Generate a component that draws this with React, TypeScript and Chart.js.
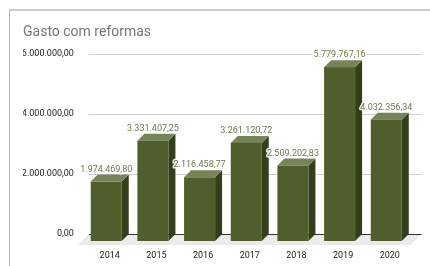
import React, { useEffect, useRef } from "react";
import { Chart, registerables } from "chart.js";

Chart.register(...registerables);

const TITLE = "Gasto com reformas";
const CATEGORIES = ["2014", "2015", "2016", "2017", "2018", "2019", "2020"];
const VALUES = [1974469.8, 3331407.25, 2116458.77, 3261120.72, 2509202.83, 5779767.16, 4032356.34];
const Y_MAX = 6000000;
const Y_STEP = 2000000;

const FONT = "Roboto, 'Liberation Sans', Arial, sans-serif";
const FRONT = "#4f5e2a";
const TOP = "#76845a";
const SIDE = "#333f1b";
const LABEL = "#6b7a4b";
const DX = 7;
const DY = 7;

function fmt(v: number): string {
  const neg = v < 0;
  const fixed = Math.abs(v).toFixed(2);
  const [int, dec] = fixed.split(".");
  const withDots = int.replace(/\B(?=(\d{3})+(?!\d))/g, ".");
  return (neg ? "-" : "") + withDots + "," + dec;
}

const bar3d = {
  id: "bar3d",
  beforeDatasetsDraw(chart: any) {
    const { ctx, chartArea } = chart;
    const y = chart.scales.y;
    const x0 = chartArea.left - 1;
    const x1 = chartArea.right + 5;
    const base = y.getPixelForValue(0);
    ctx.save();
    // floor
    ctx.fillStyle = "#ebebeb";
    ctx.beginPath();
    ctx.moveTo(x0, base);
    ctx.lineTo(x1, base);
    ctx.lineTo(x1 - 11, base + 11);
    ctx.lineTo(x0 - 11, base + 11);
    ctx.closePath();
    ctx.fill();
    // gridlines
    ctx.lineWidth = 1;
    y.ticks.forEach((t: any) => {
      if (t.value === 0) return;
      const py = Math.round(y.getPixelForValue(t.value)) + 0.5;
      ctx.strokeStyle = "#d0d0d0";
      ctx.beginPath();
      ctx.moveTo(x0, py);
      ctx.lineTo(x1, py);
      ctx.stroke();
    });
    // baseline
    ctx.strokeStyle = "#333333";
    ctx.beginPath();
    ctx.moveTo(x0, Math.round(base) + 0.5);
    ctx.lineTo(x1, Math.round(base) + 0.5);
    ctx.stroke();
    ctx.restore();
  },
  afterDatasetsDraw(chart: any) {
    const { ctx } = chart;
    const meta = chart.getDatasetMeta(0);
    ctx.save();
    meta.data.forEach((bar: any) => {
      const w = bar.width;
      const xl = bar.x - w / 2;
      const xr = bar.x + w / 2;
      const top = bar.y;
      const base = bar.base;
      // side face
      ctx.fillStyle = SIDE;
      ctx.beginPath();
      ctx.moveTo(xr - DX, top + DY);
      ctx.lineTo(xr, top);
      ctx.lineTo(xr, base);
      ctx.lineTo(xr - DX, base + DY);
      ctx.closePath();
      ctx.fill();
      // top face
      ctx.fillStyle = TOP;
      ctx.beginPath();
      ctx.moveTo(xl - DX, top + DY);
      ctx.lineTo(xr - DX, top + DY);
      ctx.lineTo(xr, top);
      ctx.lineTo(xl, top);
      ctx.closePath();
      ctx.fill();
      // front face
      ctx.fillStyle = FRONT;
      ctx.fillRect(xl - DX, top + DY, w, base - top);
    });
    // labels
    ctx.font = `9px ${FONT}`;
    ctx.textAlign = "center";
    ctx.textBaseline = "alphabetic";
    ctx.lineJoin = "round";
    meta.data.forEach((bar: any, i: number) => {
      const txt = fmt(VALUES[i]);
      const tx = bar.x - DX;
      const ty = bar.y - 3;
      ctx.strokeStyle = "rgba(255,255,255,0.9)";
      ctx.lineWidth = 3;
      ctx.strokeText(txt, tx, ty);
      ctx.fillStyle = LABEL;
      ctx.fillText(txt, tx, ty);
    });
    ctx.restore();
  },
};

export default function App() {
  const ref = useRef<HTMLCanvasElement | null>(null);
  useEffect(() => {
    if (!ref.current) return;
    const chart = new Chart(ref.current, {
      type: "bar",
      data: {
        labels: CATEGORIES,
        datasets: [
          {
            data: VALUES,
            backgroundColor: "rgba(0,0,0,0)",
            borderWidth: 0,
            barThickness: 31,
          },
        ],
      },
      options: {
        responsive: false,
        animation: false,
        layout: { padding: { left: 23, right: 13.4, top: 24, bottom: 0 } },
        plugins: {
          legend: { display: false },
          tooltip: { enabled: false },
          title: {
            display: true,
            text: TITLE,
            align: "start",
            color: "#757575",
            font: { size: 14, family: FONT, weight: "normal" },
            padding: { top: 0, bottom: 12.7 },
          },
        },
        scales: {
          x: {
            type: "category",
            offset: true,
            grid: { display: false, drawTicks: false },
            border: { display: false },
            ticks: {
              color: "#222222",
              font: { size: 9, family: FONT },
              padding: 16,
              labelOffset: -3.5,
              maxRotation: 0,
            },
            afterFit: (s: any) => {
              s.height = 32;
            },
          },
          y: {
            min: 0,
            max: Y_MAX,
            grid: { display: false, drawTicks: false },
            border: { display: false },
            ticks: {
              stepSize: Y_STEP,
              color: "#222222",
              font: { size: 9, family: FONT },
              padding: 16,
              callback: (v: any) => fmt(Number(v)),
            },
            afterFit: (s: any) => {
              s.width = 66.9;
            },
          },
        },
      },
      plugins: [bar3d],
    });
    return () => chart.destroy();
  }, []);
  return (
    <div style={{ position: "absolute", left: 0, top: 0, width: 430, height: 266, background: "#fff" }}>
      <div
        style={{
          position: "absolute",
          left: 9,
          top: 9,
          width: 421,
          height: 257,
          borderTop: "2px solid #cccccc",
          borderLeft: "1px solid #b5b5b5",
          boxSizing: "border-box",
        }}
      />
      <canvas ref={ref} width={430} height={266} style={{ position: "absolute", left: 0, top: 0 }} />
    </div>
  );
}
